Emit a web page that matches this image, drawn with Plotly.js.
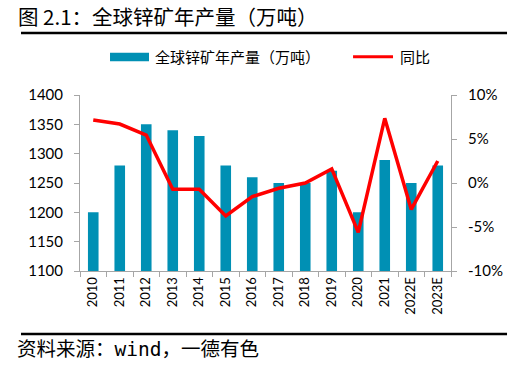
<!DOCTYPE html>
<html><head><meta charset="utf-8">
<script src="https://cdn.plot.ly/plotly-3.0.1.min.js"></script>
<style>body{margin:0;padding:0;background:#fff}#c{width:514px;height:365px}</style>
</head><body><div id="c"></div>
<script>
var years = ["2010","2011","2012","2013","2014","2015","2016","2017","2018","2019","2020","2021","2022E","2023E"];
var production = [1200,1280,1350,1340,1330,1280,1260,1250,1250,1271,1200,1289,1250,1280];
var yoy = [0.0715,0.067,0.0545,-0.0072,-0.0072,-0.0375,-0.0155,-0.006,0.0,0.016,-0.056,0.0735,-0.030,0.025];
var leftTicks = [1100,1150,1200,1250,1300,1350,1400];
var rightTicks = [-0.10,-0.05,0,0.05,0.10];
var rightTickText = ["-10%","-5%","0%","5%","10%"];
var barName = "全球锌矿年产量（万吨）";
var lineName = "同比";

var barColor = "#0090b4", lineColor = "#ff0000", axisColor = "#a6a6a6";
var cjk = "'Noto Sans CJK SC', sans-serif";
var tickFont = {family:"Lato, 'Open Sans', sans-serif", size:15, color:"#000"};
var data = [
 {type:"bar", x:years, y:production, name:barName, marker:{color:barColor}, yaxis:"y"},
 {type:"scatter", mode:"lines", x:years, y:yoy, name:lineName, line:{color:lineColor, width:3.5}, yaxis:"y2"}
];
var layout = {
 width:514, height:365,
 margin:{l:80, r:63, t:95, b:94},
 paper_bgcolor:"#fff", plot_bgcolor:"#fff",
 bargap:0.6,
 showlegend:false,
 xaxis:{type:"category", tickangle:-90, showline:true, linecolor:axisColor, linewidth:1,
   ticks:"outside", ticklen:5, tickcolor:axisColor, tickson:"boundaries", showgrid:false,
   tickfont:{family:"Lato, 'Open Sans', sans-serif", size:13, color:"#000"}},
 yaxis:{range:[1100,1400], tickvals:leftTicks, showline:true, linecolor:axisColor, linewidth:1,
   ticks:"outside", ticklen:5, tickcolor:axisColor, ticklabelstandoff:8, showgrid:false, zeroline:false, tickfont:tickFont},
 yaxis2:{overlaying:"y", side:"right", range:[-0.10,0.10], tickvals:rightTicks, ticktext:rightTickText,
   showline:true, linecolor:axisColor, linewidth:1, ticks:"outside", ticklen:5, tickcolor:axisColor, ticklabelstandoff:8,
   showgrid:false, zeroline:false, tickfont:tickFont},
 shapes:[
  {type:"line", xref:"paper", yref:"paper", x0:-0.159, x1:1.151, y0:1.352, y1:1.352, line:{color:"#000", width:2.5}},
  {type:"line", xref:"paper", yref:"paper", x0:-0.159, x1:1.151, y0:-0.358, y1:-0.358, line:{color:"#000", width:2.5}},
  {type:"rect", xref:"paper", yref:"paper", x0:0.0809, x1:0.186, y0:1.192, y1:1.240, fillcolor:barColor, line:{width:0}},
  {type:"line", xref:"paper", yref:"paper", x0:0.736, x1:0.8437, y0:1.2176, y1:1.2176, line:{color:lineColor, width:3}}
 ],
 annotations:[
  {text:"图 2.1：全球锌矿年产量（万吨）", xref:"paper", yref:"paper", x:-0.173, y:1.449, xanchor:"left", yanchor:"middle",
   showarrow:false, font:{family:cjk, size:20.5, color:"#000"}},
  {text:"资料来源：<span style=\"font-family:'DejaVu Sans Mono'\">wind</span>，一德有色", xref:"paper", yref:"paper", x:-0.175, y:-0.432, xanchor:"left", yanchor:"middle",
   showarrow:false, font:{family:cjk, size:19.5, color:"#000"}},
  {text:barName, xref:"paper", yref:"paper", x:0.1968, y:1.216, xanchor:"left", yanchor:"middle",
   showarrow:false, font:{family:cjk, size:15, color:"#000"}},
  {text:lineName, xref:"paper", yref:"paper", x:0.857, y:1.216, xanchor:"left", yanchor:"middle",
   showarrow:false, font:{family:cjk, size:15, color:"#000"}}
 ]
};
Plotly.newPlot("c", data, layout, {displayModeBar:false, staticPlot:true});
</script></body></html>
